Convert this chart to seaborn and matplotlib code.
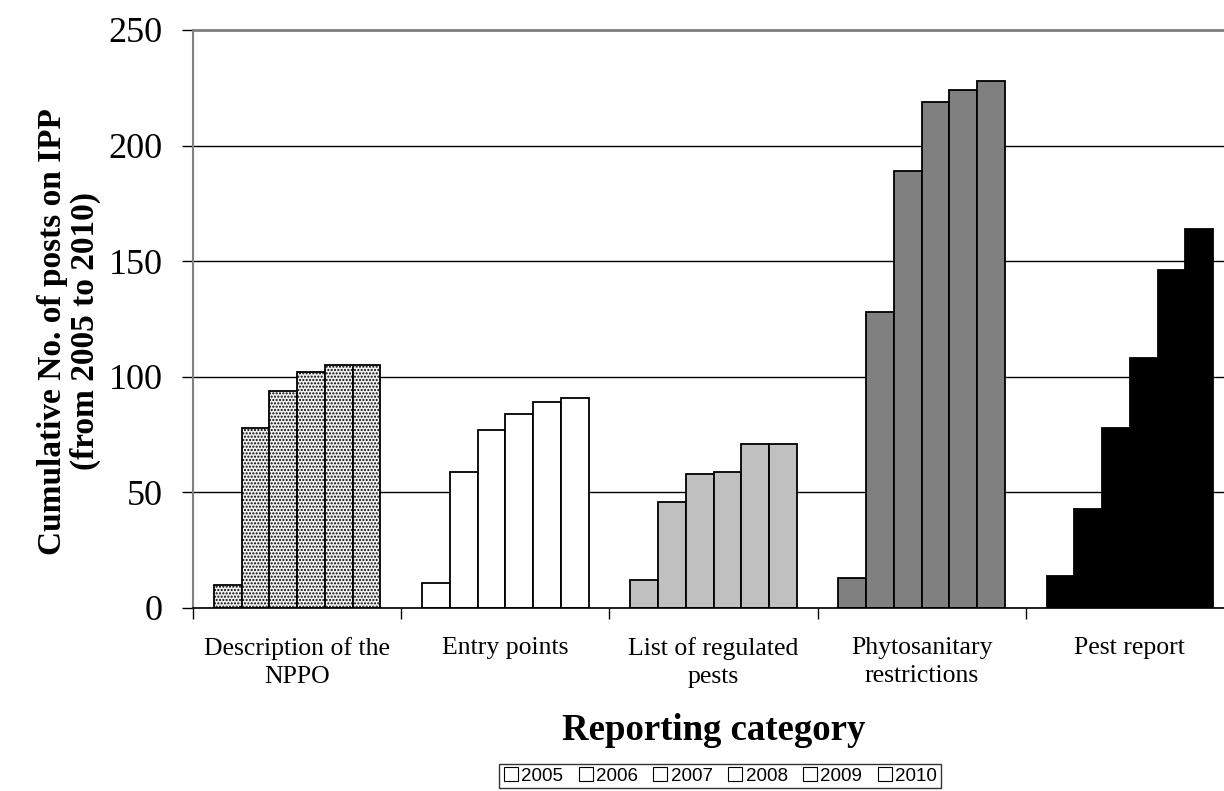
import pandas as pd
import numpy as np
import matplotlib
matplotlib.use('Agg')
import matplotlib.pyplot as plt
from matplotlib.lines import Line2D
import seaborn as sns

# Data
categories = ['Description of the\nNPPO', 'Entry points', 'List of regulated\npests',
              'Phytosanitary\nrestrictions', 'Pest report']
years = ['2005', '2006', '2007', '2008', '2009', '2010']
description_nppo = [10, 78, 94, 102, 105, 105]
entry_points = [11, 59, 77, 84, 89, 91]
regulated_pests = [12, 46, 58, 59, 71, 71]
phyto_restrictions = [13, 128, 189, 219, 224, 228]
pest_report = [14, 43, 78, 108, 146, 164]

series = [description_nppo, entry_points, regulated_pests, phyto_restrictions, pest_report]
rows = []
for cat, vals in zip(categories, series):
    for yr, v in zip(years, vals):
        rows.append({'Category': cat, 'Year': yr, 'Posts': v})
df = pd.DataFrame(rows)

# colours per reporting category (not per year)
cat_colors = ['#f0f0f0', '#ffffff', '#c0c0c0', '#808080', '#000000']

sns.set_theme(style='white')
plt.rcParams['font.family'] = ['Liberation Serif', 'DejaVu Serif']
plt.rcParams['text.color'] = 'black'
plt.rcParams['axes.labelcolor'] = 'black'
plt.rcParams['xtick.color'] = 'black'
plt.rcParams['ytick.color'] = 'black'
plt.rcParams['hatch.color'] = '#8a8a8a'
plt.rcParams['hatch.linewidth'] = 1.0

fig = plt.figure(figsize=(12.24, 7.91), dpi=100)
ax = fig.add_axes([0.1577, 0.2314, 0.8505, 0.7307])

sns.barplot(data=df, x='Category', y='Posts', hue='Year', order=categories,
            hue_order=years, palette=['white'] * 6, width=0.8, gap=0,
            edgecolor='black', linewidth=1.3, saturation=1, legend=False, ax=ax)

for container in ax.containers:
    for i, bar in enumerate(container):
        bar.set_facecolor(cat_colors[i])
        bar.set_edgecolor('black')
        if i == 0:
            bar.set_hatch('.....')

ax.set_ylim(0, 250)
ax.set_xlim(-0.5, 4.5)
ax.set_yticks([0, 50, 100, 150, 200, 250])
ax.yaxis.grid(True, color='black', linewidth=1.0)
ax.set_axisbelow(True)

ax.spines['right'].set_visible(False)
ax.spines['top'].set_color('#808080')
ax.spines['top'].set_linewidth(2)
ax.spines['left'].set_color('#808080')
ax.spines['left'].set_linewidth(1.5)
ax.spines['bottom'].set_color('black')
ax.spines['bottom'].set_linewidth(1.2)

ax.tick_params(axis='y', which='major', direction='out', length=8, color='black',
               width=1, left=True, labelsize=26, pad=14)
ax.set_xticks(np.arange(-0.5, 5, 1), minor=True)
ax.tick_params(axis='x', which='minor', direction='out', length=8, color='black',
               width=1, bottom=True)
ax.tick_params(axis='x', which='major', length=0, labelsize=18.5, pad=21)
for lbl in ax.get_xticklabels():
    lbl.set_linespacing(1.35)

ax.set_xlabel('Reporting category', fontsize=26.5, fontweight='bold', va='baseline')
ax.xaxis.set_label_coords(0.5, -0.2284)
ax.set_ylabel('Cumulative No. of posts on IPP\n(from 2005 to 2010)', fontsize=24,
              fontweight='bold', linespacing=1.1, va='center')
ax.yaxis.set_label_coords(-0.119, 0.479)

handles = [Line2D([0], [0], marker='s', linestyle='none', markersize=10,
                  markerfacecolor='white', markeredgecolor='black', markeredgewidth=0.8)
           for _ in years]
fig.legend(handles, years, loc='center', bbox_to_anchor=(0.588, 0.019), ncol=6,
           frameon=True, fancybox=False, edgecolor='black', handletextpad=0.1,
           columnspacing=0.75, handlelength=0.9, borderpad=0.2,
           prop={'family': 'Liberation Sans', 'size': 13.5})

fig.savefig('out.png', dpi=100)
